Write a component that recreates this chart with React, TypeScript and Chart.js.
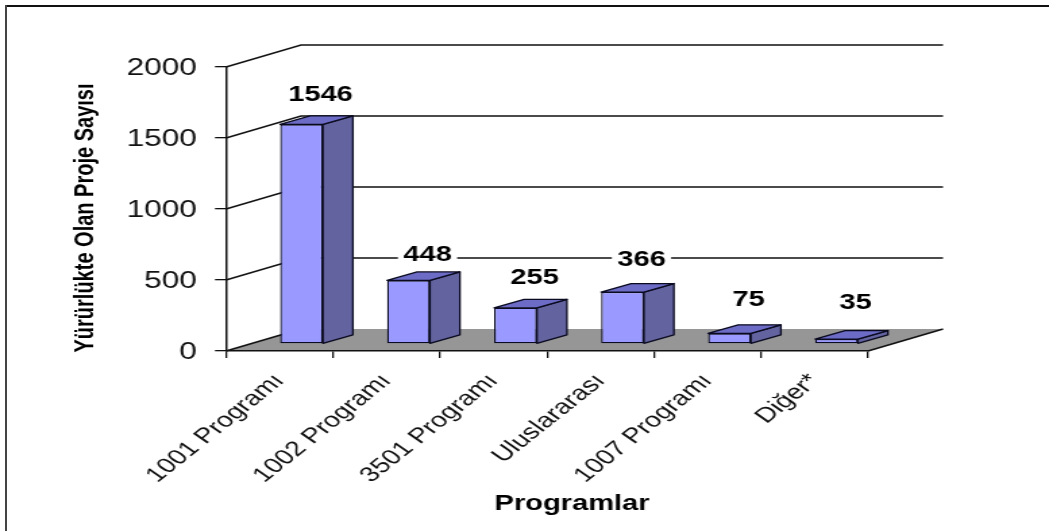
import React, { useEffect, useRef } from "react";
import { Chart, registerables } from "chart.js";

Chart.register(...registerables);

const categories = ["1001 Programı", "1002 Programı", "3501 Programı", "Uluslararası", "1007 Programı", "Diğer*"];
const projectCounts = [1546, 448, 255, 366, 75, 35];
const yTitle = "Yürürlükte Olan Proje Sayısı";
const xTitle = "Programlar";

// The reference is a picture stretched sideways: the chart is laid out in a narrower canvas.
const CANVAS_W = 777;
const CANVAS_H = 531;
const STRETCH = 1049 / CANVAS_W;
const u = (imagePx: number) => imagePx / STRETCH;

const FONT = "'Liberation Sans', Arial, sans-serif";
const WALL = { dx: u(75), dy: -22 };
const BAR_SHIFT = { dx: u(22), dy: -7 };
const BAR_DEPTH = { dx: u(30), dy: -8.5 };
const LABEL_LIFT = [32, 28, 32, 34, 36, 38];
const LABEL_RIGHT = u(19);
const INK = "#111111";

const threeD = {
  id: "threeD",
  beforeDraw(chart: any) {
    const { ctx, chartArea: a, scales } = chart;
    ctx.save();
    // floor
    ctx.fillStyle = "#969696";
    ctx.beginPath();
    ctx.moveTo(a.left, a.bottom);
    ctx.lineTo(a.right, a.bottom);
    ctx.lineTo(a.right + WALL.dx, a.bottom + WALL.dy);
    ctx.lineTo(a.left + WALL.dx, a.bottom + WALL.dy);
    ctx.closePath();
    ctx.fill();
    // wall grid lines
    ctx.strokeStyle = INK;
    ctx.lineWidth = 1.4;
    for (const t of scales.y.ticks) {
      const y = scales.y.getPixelForValue(t.value);
      ctx.beginPath();
      ctx.moveTo(a.left, y);
      ctx.lineTo(a.left + WALL.dx, y + WALL.dy);
      if (t.value > 0) ctx.lineTo(a.right + WALL.dx, y + WALL.dy);
      ctx.stroke();
    }
    // right floor edge
    ctx.beginPath();
    ctx.moveTo(a.right, a.bottom);
    ctx.lineTo(a.right + WALL.dx, a.bottom + WALL.dy);
    ctx.stroke();
    ctx.restore();
  },
  beforeDatasetsDraw(chart: any) {
    const { ctx } = chart;
    const meta = chart.getDatasetMeta(0);
    ctx.save();
    ctx.translate(BAR_SHIFT.dx, BAR_SHIFT.dy);
    ctx.strokeStyle = "#0a0a20";
    ctx.lineWidth = 1.3;
    ctx.lineJoin = "round";
    for (const el of meta.data) {
      const l = el.x - el.width / 2;
      const r = el.x + el.width / 2;
      const { dx, dy } = BAR_DEPTH;
      ctx.fillStyle = "#63639f";
      ctx.beginPath();
      ctx.moveTo(r, el.y);
      ctx.lineTo(r + dx, el.y + dy);
      ctx.lineTo(r + dx, el.base + dy);
      ctx.lineTo(r, el.base);
      ctx.closePath();
      ctx.fill();
      ctx.stroke();
      ctx.fillStyle = "#6c6cc6";
      ctx.beginPath();
      ctx.moveTo(l, el.y);
      ctx.lineTo(l + dx, el.y + dy);
      ctx.lineTo(r + dx, el.y + dy);
      ctx.lineTo(r, el.y);
      ctx.closePath();
      ctx.fill();
      ctx.stroke();
    }
    ctx.restore();
    // the library's own bars become the front faces
    ctx.save();
    ctx.translate(BAR_SHIFT.dx, BAR_SHIFT.dy);
  },
  afterDatasetsDraw(chart: any) {
    const { ctx } = chart;
    ctx.restore();
    const meta = chart.getDatasetMeta(0);
    ctx.save();
    ctx.font = `bold 21.5px ${FONT}`;
    ctx.textAlign = "center";
    ctx.textBaseline = "middle";
    meta.data.forEach((el: any, i: number) => {
      const text = String(projectCounts[i]);
      const cx = el.x + BAR_SHIFT.dx + LABEL_RIGHT;
      const cy = el.y + BAR_SHIFT.dy - LABEL_LIFT[i] + 2.5;
      const w = ctx.measureText(text).width + 8;
      ctx.fillStyle = "#ffffff";
      ctx.fillRect(cx - w / 2, cy - 10, w, 20);
      ctx.fillStyle = "#000000";
      ctx.fillText(text, cx, cy);
    });
    ctx.restore();
  },
};

// Moves an axis title (and, if asked, its tick labels) by a set amount,
// which the library's align and padding options cannot do.
const shiftParts = (dx: number, dy: number, labelDy = 0) => (scale: any) => {
  if (scale.__shifted) return;
  scale.__shifted = true;
  const wrap = (name: string, x: number, y: number) => {
    const draw = scale[name].bind(scale);
    scale[name] = (...args: any[]) => {
      scale.ctx.save();
      scale.ctx.translate(x, y);
      draw(...args);
      scale.ctx.restore();
    };
  };
  wrap("drawTitle", dx, dy);
  if (labelDy) wrap("drawLabels", 0, labelDy);
};

export default function App() {
  const ref = useRef<HTMLCanvasElement>(null);
  useEffect(() => {
    const chart = new Chart(ref.current!, {
      type: "bar",
      data: {
        labels: categories,
        datasets: [
          {
            label: "Proje",
            data: projectCounts,
            backgroundColor: "#9999ff",
            borderColor: "#0a0a20",
            borderWidth: 1.3,
            borderSkipped: false,
            barPercentage: 0.4,
            categoryPercentage: 1,
            clip: false,
          } as any,
        ],
      },
      options: {
        responsive: false,
        animation: false,
        layout: { padding: { top: 67, left: 0, right: CANVAS_W - u(868), bottom: 0 } },
        plugins: { legend: { display: false }, tooltip: { enabled: false } },
        scales: {
          x: {
            afterFit: (s: any) => {
              s.height = CANVAS_H - 351;
            },
            afterUpdate: shiftParts(u(25), 5),
            grid: { drawOnChartArea: false, color: INK, tickLength: 7, lineWidth: 1.3 },
            border: { color: INK, width: 1.5 },
            ticks: {
              color: "#111",
              font: { family: FONT, size: 21 },
              maxRotation: 47,
              minRotation: 47,
              autoSkip: false,
              padding: 11,
            },
            title: {
              display: true,
              text: xTitle,
              color: "#000",
              font: { family: FONT, size: 21.5, weight: "bold" },
              padding: { top: 0, bottom: 19 },
            },
          },
          y: {
            min: 0,
            max: 2000,
            afterFit: (s: any) => {
              s.width = u(226);
            },
            afterUpdate: shiftParts(u(69), 9, 1.5),
            grid: { drawOnChartArea: false, color: INK, tickLength: u(11), lineWidth: 1.3 },
            border: { color: INK, width: 1.5 },
            ticks: {
              stepSize: 500,
              color: "#111",
              font: { family: FONT, size: 23.5 },
              padding: u(18),
              callback: (v: any) => String(v),
            },
            title: {
              display: true,
              text: yTitle,
              color: "#000",
              font: { family: FONT, size: 20, weight: "bold" },
              padding: { top: 0, bottom: 0 },
            },
          },
        },
      } as any,
      plugins: [threeD],
    });
    return () => chart.destroy();
  }, []);

  return (
    <div style={{ position: "fixed", left: 0, top: 0, width: 1049, height: 531, background: "#fff", overflow: "hidden" }}>
      <div
        style={{
          position: "absolute",
          left: 0,
          top: 0,
          width: CANVAS_W,
          height: CANVAS_H,
          transform: `scale(${STRETCH}, 1)`,
          transformOrigin: "0 0",
        }}
      >
        <canvas ref={ref} width={CANVAS_W} height={CANVAS_H} style={{ display: "block", filter: "blur(0.55px)" }} />
      </div>
      <div style={{ position: "absolute", left: 5, top: 5, right: 0, height: 2, background: "#111" }} />
      <div style={{ position: "absolute", left: 5, top: 5, bottom: 0, width: 2, background: "#444" }} />
    </div>
  );
}
